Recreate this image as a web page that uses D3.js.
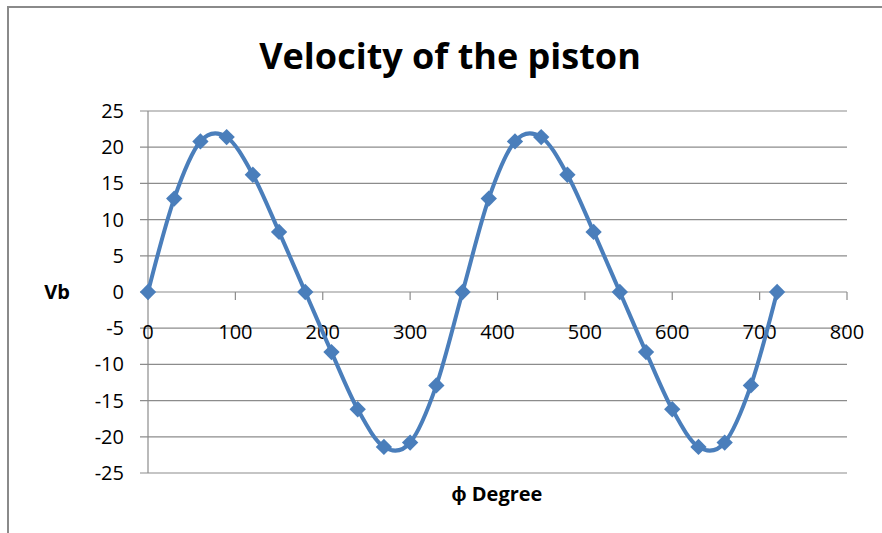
<!DOCTYPE html>
<html lang="en">
<head>
    <meta charset="UTF-8">
    <title>Velocity of the piston</title>
    <style>
        body { margin: 0; background: #fff; }
        text { font-family: "Open Sans", "Liberation Sans", sans-serif; fill: #000; }
    </style>
</head>
<body>
<script src="https://d3js.org/d3.v7.min.js"></script>
<script>
    // crank angle (degrees) and piston velocity
    const phi = [0, 30, 60, 90, 120, 150, 180, 210, 240, 270, 300, 330, 360,
                 390, 420, 450, 480, 510, 540, 570, 600, 630, 660, 690, 720];
    const vb = [0, 12.9, 20.8, 21.4, 16.2, 8.3, 0, -8.3, -16.2, -21.4, -20.8, -12.9, 0,
                12.9, 20.8, 21.4, 16.2, 8.3, 0, -8.3, -16.2, -21.4, -20.8, -12.9, 0];
    const xTicks = [0, 100, 200, 300, 400, 500, 600, 700, 800];
    const yTicks = [-25, -20, -15, -10, -5, 0, 5, 10, 15, 20, 25];

    const width = 882, height = 533;
    const blue = '#4a7ebb', grid = '#8c8c8c';

    const svg = d3.select('body').append('svg')
        .attr('width', width)
        .attr('height', height);

    // chart frame
    svg.append('rect')
        .attr('x', 8).attr('y', 7)
        .attr('width', 900).attr('height', 600)
        .attr('fill', '#fff')
        .attr('stroke', '#8a8a8a')
        .attr('stroke-width', 2);

    const x = d3.scaleLinear().domain([0, 800]).range([148, 847]);
    const y = d3.scaleLinear().domain([-25, 25]).range([473, 111]);

    // horizontal gridlines
    svg.append('g')
        .selectAll('line')
        .data(yTicks)
        .join('line')
        .attr('x1', 140).attr('x2', x(800))
        .attr('y1', d => y(d)).attr('y2', d => y(d))
        .attr('stroke', grid)
        .attr('stroke-width', 1.2);

    // y axis line
    svg.append('line')
        .attr('x1', x(0)).attr('x2', x(0))
        .attr('y1', y(25)).attr('y2', y(-25))
        .attr('stroke', grid)
        .attr('stroke-width', 1.2);

    // x axis ticks at y = 0
    svg.append('g')
        .selectAll('line')
        .data(xTicks)
        .join('line')
        .attr('x1', d => x(d)).attr('x2', d => x(d))
        .attr('y1', y(0)).attr('y2', y(0) + 8)
        .attr('stroke', grid)
        .attr('stroke-width', 1.2);

    // y tick labels
    svg.append('g')
        .selectAll('text')
        .data(yTicks)
        .join('text')
        .attr('x', 124)
        .attr('y', d => y(d))
        .attr('dy', '0.35em')
        .attr('text-anchor', 'end')
        .style('font-size', '20px')
        .text(d => d);

    // x tick labels
    svg.append('g')
        .selectAll('text')
        .data(xTicks)
        .join('text')
        .attr('x', d => x(d))
        .attr('y', 332)
        .attr('dy', '0.35em')
        .attr('text-anchor', 'middle')
        .style('font-size', '20px')
        .text(d => d);

    const pts = phi.map((p, i) => [p, vb[i]]);

    // smoothed line
    svg.append('path')
        .datum(pts)
        .attr('d', d3.line()
            .x(d => x(d[0]))
            .y(d => y(d[1]))
            .curve(d3.curveCatmullRom.alpha(0)))
        .attr('fill', 'none')
        .attr('stroke', blue)
        .attr('stroke-width', 4);

    // diamond markers
    svg.append('g')
        .selectAll('path')
        .data(pts)
        .join('path')
        .attr('transform', d => `translate(${x(d[0])},${y(d[1])})`)
        .attr('d', d3.symbol().type(d3.symbolDiamond2).size(170))
        .attr('fill', blue);

    // titles
    svg.append('text')
        .attr('x', 450).attr('y', 69)
        .attr('text-anchor', 'middle')
        .style('font-size', '36px')
        .style('font-weight', 'bold')
        .text('Velocity of the piston');

    svg.append('text')
        .attr('x', 57).attr('y', 299)
        .attr('text-anchor', 'middle')
        .style('font-size', '20px')
        .style('font-weight', 'bold')
        .text('Vb');

    svg.append('text')
        .attr('x', 497).attr('y', 501)
        .attr('text-anchor', 'middle')
        .style('font-size', '20px')
        .style('font-weight', 'bold')
        .text('ϕ Degree');
</script>
</body>
</html>
